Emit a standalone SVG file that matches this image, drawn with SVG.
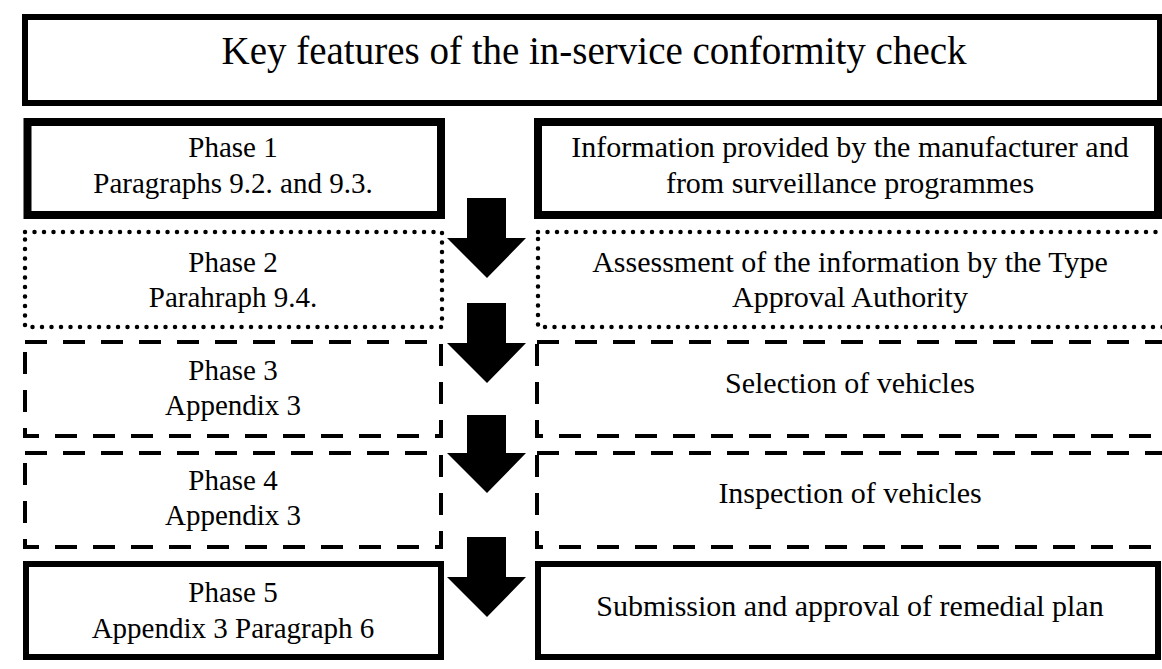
<svg xmlns="http://www.w3.org/2000/svg" width="1162" height="669" viewBox="0 0 1162 669">
<style>
  .bx{fill:#fff;stroke:#000}
  .solid8{stroke-width:8}
  .solid6{stroke-width:6}
  .dot{stroke-width:4.5;stroke-dasharray:0 9.5;stroke-linecap:round}
  .dash{stroke-width:4;stroke-dasharray:22 16}
  text{font-family:"Liberation Serif","Times New Roman",serif;fill:#000;text-anchor:middle}
  .t{font-size:39px}
  .l{font-size:29px}
  .r{font-size:30px}
  .arr{fill:#000}
</style>
<rect width="1162" height="669" fill="#fff"/>
<g id="title">
  <rect class="bx solid6" x="25" y="17" width="1135" height="86"/>
  <text class="t" x="594" y="64">Key features of the in-service conformity check</text>
</g>
<g id="phase1">
  <rect class="bx solid8" x="27.5" y="122" width="413.5" height="93"/>
  <text class="l" x="233" y="157">Phase 1</text>
  <text class="l" x="233" y="193">Paragraphs 9.2. and 9.3.</text>
</g>
<g id="info1">
  <rect class="bx solid8" x="538" y="122" width="620" height="93"/>
  <text class="r" x="850" y="157">Information provided by the manufacturer and</text>
  <text class="r" x="850" y="193">from surveillance programmes</text>
</g>
<g id="phase2">
  <rect class="bx dot" x="25" y="232" width="417" height="95"/>
  <text class="l" x="233" y="272">Phase 2</text>
  <text class="l" x="233" y="307">Parahraph 9.4.</text>
</g>
<g id="info2">
  <rect class="bx dot" x="538" y="232" width="640" height="95"/>
  <text class="r" x="850" y="272">Assessment of the information by the Type</text>
  <text class="r" x="850" y="307">Approval Authority</text>
</g>
<g id="phase3">
  <rect class="bx dash" x="25" y="342" width="416" height="94"/>
  <text class="l" x="233" y="380">Phase 3</text>
  <text class="l" x="233" y="415">Appendix 3</text>
</g>
<g id="info3">
  <rect class="bx dash" x="537" y="342" width="640" height="94"/>
  <text class="r" x="850" y="393">Selection of vehicles</text>
</g>
<g id="phase4">
  <rect class="bx dash" x="25" y="453" width="416" height="94"/>
  <text class="l" x="233" y="490">Phase 4</text>
  <text class="l" x="233" y="525">Appendix 3</text>
</g>
<g id="info4">
  <rect class="bx dash" x="537" y="453" width="640" height="94"/>
  <text class="r" x="850" y="503">Inspection of vehicles</text>
</g>
<g id="phase5">
  <rect class="bx solid6" x="26" y="564" width="415" height="93"/>
  <text class="l" x="233" y="602">Phase 5</text>
  <text class="l" x="233" y="638">Appendix 3 Paragraph 6</text>
</g>
<g id="info5">
  <rect class="bx solid6" x="538" y="564" width="620" height="93"/>
  <text class="r" x="850" y="616">Submission and approval of remedial plan</text>
</g>
<g id="connectors">
  <polygon class="arr" points="467,198 506,198 506,238 526,238 487,278 447,238 467,238"/>
  <polygon class="arr" points="467,303 506,303 506,343 526,343 487,383 447,343 467,343"/>
  <polygon class="arr" points="467,415 506,415 506,453 526,453 487,493 447,453 467,453"/>
  <polygon class="arr" points="467,537 506,537 506,577 526,577 487,617 447,577 467,577"/>
</g>
</svg>
